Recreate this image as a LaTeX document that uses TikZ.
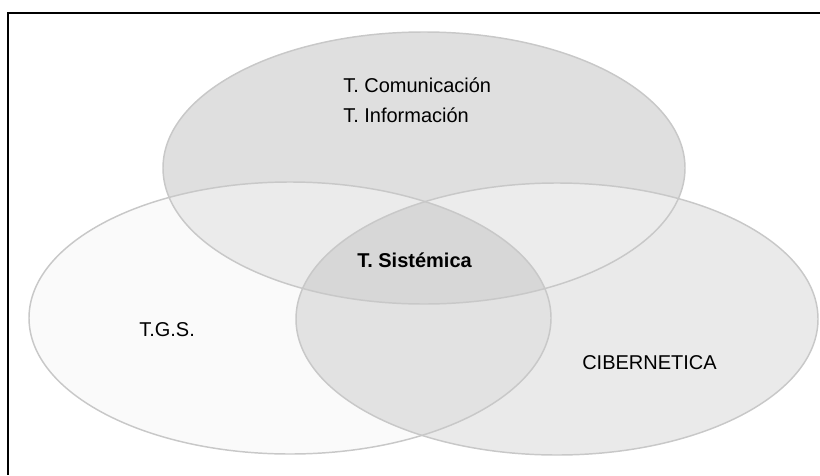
\documentclass[tikz,border=0pt]{standalone}
\usepackage{fontspec}
\setmainfont{Liberation Sans}
\definecolor{vennline}{HTML}{C8C8C8}
\definecolor{tonly}{HTML}{DFDFDF}
\definecolor{lonly}{HTML}{FAFAFA}
\definecolor{ronly}{HTML}{EAEAEA}
\definecolor{tl}{HTML}{EBEBEB}
\definecolor{tr}{HTML}{ECECEC}
\definecolor{lr}{HTML}{E2E2E2}
\definecolor{tlr}{HTML}{D7D7D7}
\begin{document}
\begin{tikzpicture}[x=0.75pt,y=-0.75pt,
    venndim/.style={x radius=261,y radius=136},
    venn/.style={draw=vennline,line width=1.1pt},
    txt/.style={font=\fontsize{15}{18}\selectfont,inner sep=0pt,anchor=base west},
    txtbold/.style={txt,font=\fontsize{15}{18}\selectfont\bfseries}]
  \useasboundingbox (0,0) rectangle (820,475);
  \coordinate (com) at (424,168);
  \coordinate (tgs) at (290,318);
  \coordinate (cib) at (557,319);
  \fill[lonly] (tgs) ellipse [venndim];
  \fill[ronly] (cib) ellipse [venndim];
  \fill[tonly] (com) ellipse [venndim];
  \begin{scope}
    \clip (tgs) ellipse [venndim];
    \fill[lr] (cib) ellipse [venndim];
  \end{scope}
  \begin{scope}
    \clip (com) ellipse [venndim];
    \fill[tl] (tgs) ellipse [venndim];
    \fill[tr] (cib) ellipse [venndim];
    \clip (tgs) ellipse [venndim];
    \fill[tlr] (cib) ellipse [venndim];
  \end{scope}
  \foreach \c in {com,tgs,cib}
    \draw[venn] (\c) ellipse [venndim];
  \draw[line width=1.5pt] (820,13) -- (7.5,13) -- (7.5,475);
  \node[txt] (comm) at (343,92) {T. Comunicación};
  \node[txt] (info) at (343,122) {T. Información};
  \node[txtbold] (sist) at (357,267) {T. Sistémica};
  \node[txt] (gen) at (139,336) {T.G.S.};
  \node[txt] (ciber) at (582,369) {CIBERNETICA};
\end{tikzpicture}
\end{document}
